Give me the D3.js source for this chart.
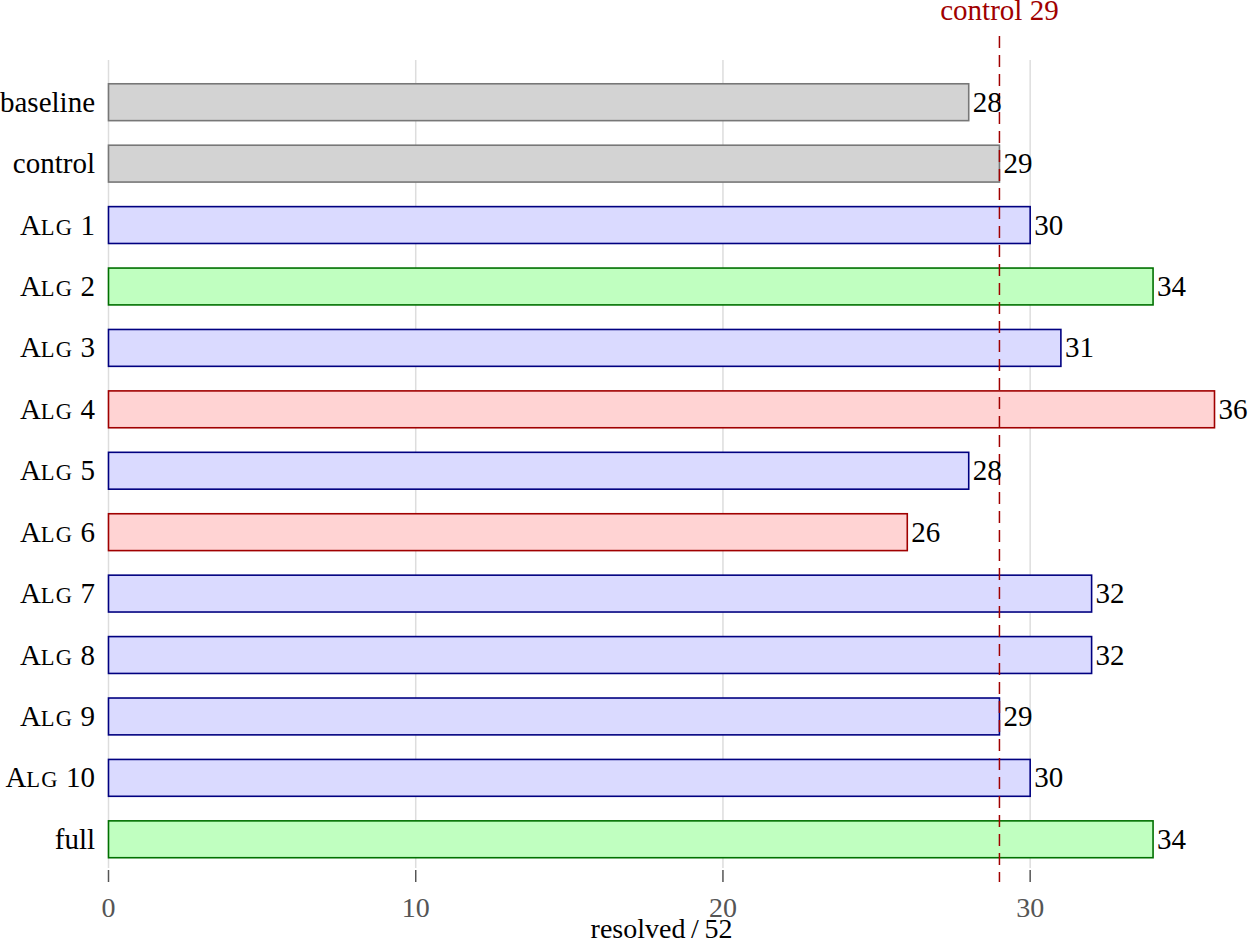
<!DOCTYPE html>
<html><head><meta charset="utf-8">
<script src="https://cdn.jsdelivr.net/npm/d3@7"></script>
<style>body{margin:0;background:#fff}svg{display:block}text{font-family:"Liberation Serif","Times New Roman",serif}</style>
</head><body><svg id="c" width="1248" height="942"></svg>
<script>
const categories = ["baseline","control","Alg 1","Alg 2","Alg 3","Alg 4","Alg 5","Alg 6","Alg 7","Alg 8","Alg 9","Alg 10","full"];
const values = [28,29,30,34,31,36,28,26,32,32,29,30,34];
const groups = ["ref","ref","mid","good","mid","bad","mid","bad","mid","mid","mid","mid","good"];
const xTicks = [0,10,20,30];
const controlValue = 29;
const totalTasks = 52;

const colors = {
  ref:{fill:"#d3d3d3",stroke:"#777777"},
  mid:{fill:"#dadaff",stroke:"#000080"},
  good:{fill:"#c0ffc0",stroke:"#007000"},
  bad:{fill:"#ffd3d3",stroke:"#a00000"}
};

const svg = d3.select("#c");
const x = d3.scaleLinear().domain([0,36]).range([108.5,1214.5]);
const y = d3.scaleBand().domain(categories).range([71.5,870]).paddingInner(0.4).paddingOuter(0.2);
const FS = 29;

// grid
svg.append("g").selectAll("line").data(xTicks).join("line")
  .attr("x1",d=>x(d)).attr("x2",d=>x(d)).attr("y1",60).attr("y2",868)
  .attr("stroke","#dddddd").attr("stroke-width",1.5);

// bars
svg.append("g").selectAll("rect").data(categories).join("rect")
  .attr("x",x(0)).attr("y",d=>y(d))
  .attr("width",(d,i)=>x(values[i])-x(0)).attr("height",y.bandwidth())
  .attr("fill",(d,i)=>colors[groups[i]].fill)
  .attr("stroke",(d,i)=>colors[groups[i]].stroke).attr("stroke-width",1.6);

// control line
svg.append("line").attr("x1",x(controlValue)).attr("x2",x(controlValue))
  .attr("y1",36).attr("y2",882).attr("stroke","#a00000").attr("stroke-width",1.5)
  .attr("stroke-dasharray","12,7");
svg.append("text").attr("x",x(controlValue)).attr("y",20).attr("text-anchor","middle")
  .attr("font-size",FS).attr("fill","#a00000").text("control "+controlValue);

// value labels
svg.append("g").selectAll("text").data(categories).join("text")
  .attr("x",(d,i)=>x(values[i])+4).attr("y",d=>y(d)+y.bandwidth()/2)
  .attr("dy","0.33em").attr("font-size",FS).attr("fill","#000")
  .text((d,i)=>values[i]);

// category labels (small caps for Alg)
const lab = svg.append("g").selectAll("text").data(categories).join("text")
  .attr("x",95).attr("y",d=>y(d)+y.bandwidth()/2).attr("dy","0.33em")
  .attr("text-anchor","end").attr("font-size",FS).attr("fill","#000");
lab.each(function(d){
  const t = d3.select(this);
  const m = d.match(/^Alg (\d+)$/);
  if(m){
    t.append("tspan").text("A");
    t.append("tspan").attr("font-size",22.5).attr("letter-spacing",1.2).text("LG");
    t.append("tspan").text(" "+m[1]);
  } else t.text(d);
});

// x axis ticks
const ax = svg.append("g").attr("transform","translate(0,870)");
ax.selectAll("line").data(xTicks).join("line")
  .attr("x1",d=>x(d)).attr("x2",d=>x(d)).attr("y1",0).attr("y2",12)
  .attr("stroke","#555").attr("stroke-width",1.5);
ax.selectAll("text").data(xTicks).join("text")
  .attr("x",d=>x(d)).attr("y",47).attr("text-anchor","middle")
  .attr("font-size",28).attr("fill","#555").text(d=>d);

svg.append("text").attr("x",(x(0)+x(36))/2).attr("y",938).attr("text-anchor","middle")
  .attr("font-size",28).attr("fill","#000").text("resolved\u2009/\u2009"+totalTasks);
</script></body></html>
